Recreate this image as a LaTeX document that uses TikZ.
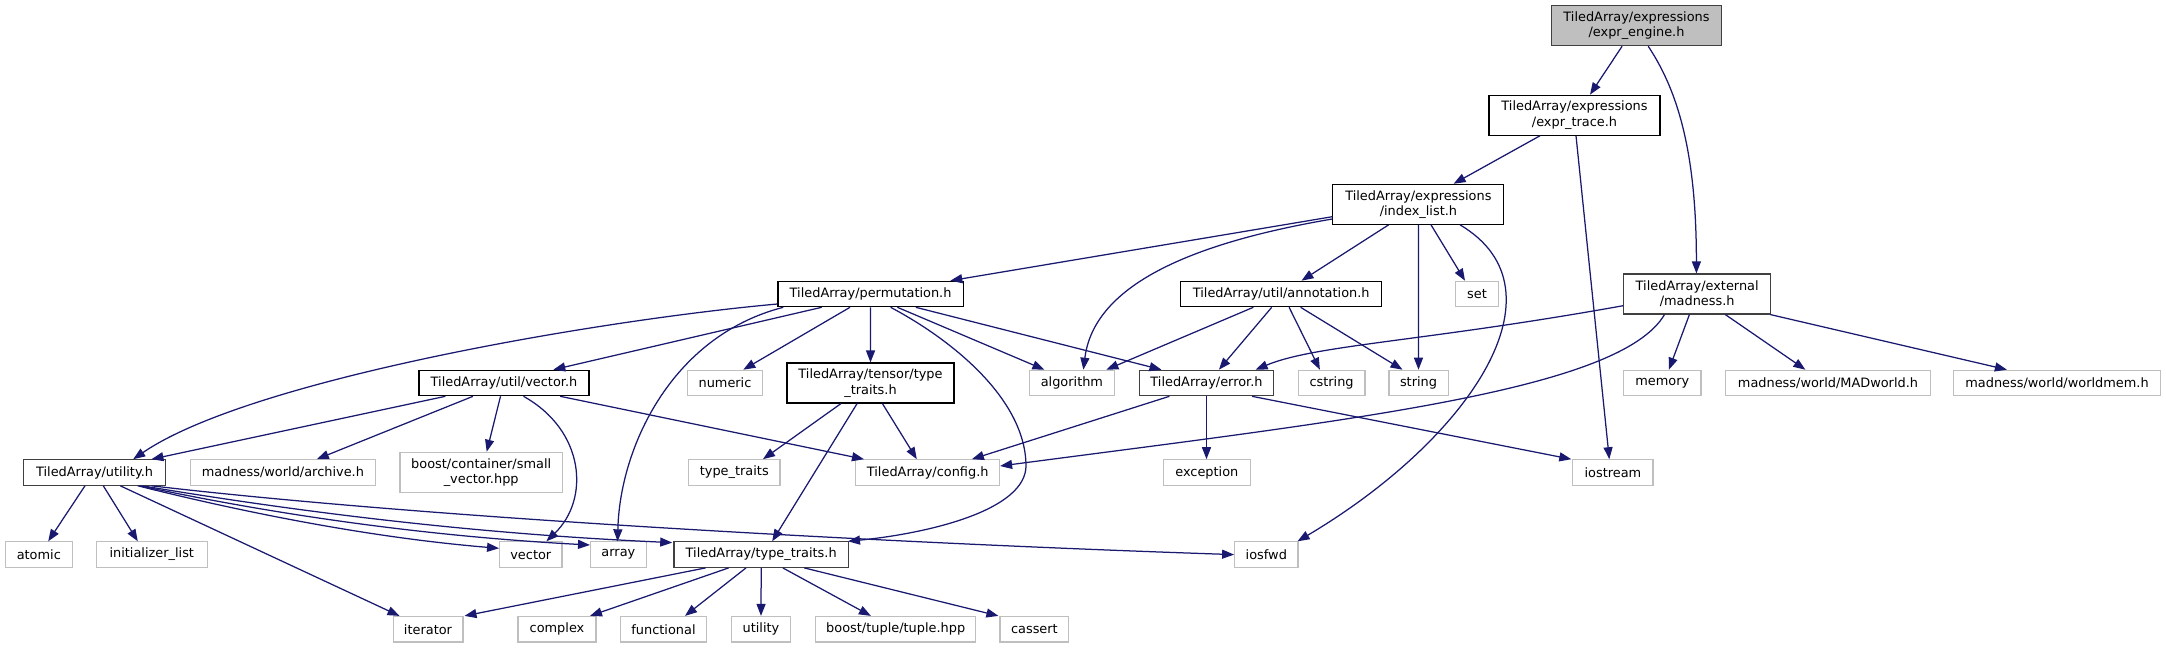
\documentclass[tikz,border=0pt]{standalone}
\usepackage{fontspec}
\setmainfont{DejaVu Sans}
\usetikzlibrary{arrows.meta}
\definecolor{edgec}{HTML}{191970}
\definecolor{extc}{HTML}{BFBFBF}
\definecolor{dkc}{HTML}{404040}
\newcommand\dfont{\fontsize{12.9}{15.3}\selectfont}
\begin{document}
\begin{tikzpicture}[x=1pt,y=-1pt,
  box/.style={draw=black, line width=1.1pt, fill=white, inner sep=0pt, minimum height=25.5pt, align=center, font=\dfont, text=black},
  ext/.style={box, draw=extc},
  dk/.style={box, draw=dkc},
  two/.style={minimum height=40pt},
  e/.style={draw=edgec, line width=1.25pt, -{Triangle[length=12pt,width=9pt]}, fill=none}]
\fill[white] (0,0) rectangle (2166,648);
\useasboundingbox (0,0) rectangle (2166,648);
% row 0-2
\node[dk, two, fill=extc, minimum width=170pt] (ee) at (1636.5,25.7) {TiledArray/expressions\\/expr\_engine.h};
\node[box, two, minimum width=171pt] (et) at (1574.5,115.2) {TiledArray/expressions\\/expr\_trace.h};
\node[box, two, minimum width=171pt] (il) at (1418.4,204.3) {TiledArray/expressions\\/index\_list.h};
% row 3
\node[box, minimum width=185.3pt] (perm) at (870.6,294) {TiledArray/permutation.h};
\node[box, minimum width=200.7pt] (ann) at (1281.2,294) {TiledArray/util/annotation.h};
\node[ext, minimum width=42.8pt] (set) at (1477,294) {set};
\node[dk, two, minimum width=147pt] (mad) at (1697.2,294) {TiledArray/external\\/madness.h};
% row 4
\node[box, minimum width=170pt] (vec) at (504,383) {TiledArray/util/vector.h};
\node[ext, minimum width=75.4pt] (num) at (725,383) {numeric};
\node[box, two, minimum width=167pt] (ttt) at (870.5,383) {TiledArray/tensor/type\\\_traits.h};
\node[ext, minimum width=85.4pt] (alg) at (1071.9,383) {algorithm};
\node[dk, minimum width=134.1pt] (err) at (1206.5,383) {TiledArray/error.h};
\node[ext, minimum width=66.7pt] (cstr) at (1331.6,383) {cstring};
\node[ext, minimum width=59.1pt] (str) at (1418.5,383) {string};
\node[ext, minimum width=77.4pt] (mem) at (1662.3,383) {memory};
\node[ext, minimum width=204.4pt] (madw) at (1828,383) {madness/world/MADworld.h};
\node[ext, minimum width=207.1pt] (wmem) at (2057,383) {madness/world/worldmem.h};
% row 5
\node[dk, minimum width=141.4pt] (util) at (94.6,472.5) {TiledArray/utility.h};
\node[ext, minimum width=184.5pt] (arch) at (282.9,472.5) {madness/world/archive.h};
\node[ext, two, minimum width=162.5pt] (sv) at (481.2,472.3) {boost/container/small\\\_vector.hpp};
\node[ext, minimum width=91.4pt] (tt) at (734.3,472.5) {type\_traits};
\node[ext, minimum width=143.7pt] (cfg) at (927.7,472.5) {TiledArray/config.h};
\node[ext, minimum width=86.8pt] (exc) at (1206.8,472.5) {exception};
\node[ext, minimum width=80.1pt] (ios) at (1612.9,472.5) {iostream};
% row 6
\node[ext, minimum width=66.6pt] (atom) at (38.8,554.6) {atomic};
\node[ext, minimum width=110.7pt] (inil) at (151.8,554.6) {initializer\_list};
\node[ext, minimum width=62.4pt] (vect) at (530.8,554.6) {vector};
\node[ext, minimum width=55.7pt] (arr) at (618.4,554.6) {array};
\node[dk, minimum width=174.5pt] (tth) at (761.2,554.6) {TiledArray/type\_traits.h};
\node[ext, minimum width=63.3pt] (iosfwd) at (1266.3,554.6) {iosfwd};
% row 7
\node[ext, minimum width=69.9pt] (iter) at (428,629.2) {iterator};
\node[ext, minimum width=78pt] (cplx) at (557,629.2) {complex};
\node[ext, minimum width=86pt] (func) at (663.5,629.2) {functional};
\node[ext, minimum width=59.3pt] (utl) at (761,629.2) {utility};
\node[ext, minimum width=159.8pt] (btup) at (895.7,629.2) {boost/tuple/tuple.hpp};
\node[ext, minimum width=68.9pt] (cas) at (1034.4,629.2) {cassert};
% edges
\draw[e] ([xshift=-14.4pt]ee.south) -- ([xshift=15.5pt]et.north);
\draw[e] ([xshift=11.7pt]ee.south) .. controls +(30,45) and +(0,-120) .. ([xshift=-0.8pt]mad.north);
\draw[e] ([xshift=-34.5pt]et.south) -- ([xshift=35.2pt]il.north);
\draw[e] ([xshift=1.5pt]et.south) -- ([xshift=-3.6pt]ios.north);
\draw[e] ([yshift=-12.4pt]il.west) -- ([xshift=79.7pt]perm.north);
\draw[e] ([yshift=-14.7pt]il.west) .. controls +(-153,26) and +(10,-80) .. ([xshift=11.5pt]alg.north);
\draw[e] ([xshift=-29.8pt]il.south) -- ([xshift=20.3pt]ann.north);
\draw[e] (il.south) -- (str.north);
\draw[e] ([xshift=12.6pt]il.south) -- ([xshift=-12pt]set.north);
\draw[e] ([xshift=41.6pt]il.south) .. controls +(110,65) and +(172,-102) .. ([xshift=-1pt]iosfwd.north east);
\draw[e] ([yshift=-10pt]perm.west) .. controls +(-178,16) and +(117,-80) .. ([xshift=38.6pt]util.north);
\draw[e] ([xshift=-48.9pt]perm.south) -- ([xshift=49.3pt]vec.north);
\draw[e] ([xshift=-87.3pt]perm.south) .. controls +(-113,29) and +(2,-92) .. ([xshift=-0.8pt]arr.north);
\draw[e] ([xshift=-20.6pt]perm.south) -- ([xshift=18.3pt]num.north);
\draw[e] (perm.south) -- (ttt.north);
\draw[e] ([xshift=20pt]perm.south) .. controls +(64,34) and +(-1,-65) .. (1026,465) .. controls +(1,45) and +(81,-8) .. ([xshift=-1pt]tth.north east);
\draw[e] ([xshift=26.8pt]perm.south) -- ([xshift=-27.5pt]alg.north);
\draw[e] ([xshift=45.2pt]perm.south) -- ([xshift=-45pt]err.north);
\draw[e] ([xshift=-27.9pt]ann.south) -- ([xshift=34.5pt]alg.north);
\draw[e] ([xshift=-9.5pt]ann.south) -- ([xshift=12.4pt]err.north);
\draw[e] ([xshift=7.9pt]ann.south) -- ([xshift=-11.7pt]cstr.north);
\draw[e] ([xshift=19.4pt]ann.south) -- ([xshift=-16pt]str.north);
\draw[e] ([yshift=-11.7pt]mad.west) .. controls +(-200,36) and +(60,-25) .. ([xshift=49.1pt]err.north);
\draw[e] ([xshift=-32.7pt]mad.south) .. controls +(-44.5,76) and +(350,-46) .. ([yshift=6.5pt]cfg.east);
\draw[e] ([xshift=-7.8pt]mad.south) -- ([xshift=6.6pt]mem.north);
\draw[e] ([xshift=28.1pt]mad.south) -- ([xshift=-22.6pt]madw.north);
\draw[e] ([xshift=-1pt]mad.south east) -- ([xshift=-50.1pt]wmem.north);
\draw[e] ([xshift=-58.6pt]vec.south) -- ([xshift=56.9pt]util.north);
\draw[e] ([xshift=-31pt]vec.south) -- ([xshift=33.9pt]arch.north);
\draw[e] ([xshift=-3.5pt]vec.south) -- ([xshift=5.5pt]sv.north);
\draw[e] ([xshift=19.5pt]vec.south) .. controls +(61.5,34.3) and +(43.6,-42) .. ([xshift=15.6pt]vect.north);
\draw[e] ([xshift=56.2pt]vec.south) -- ([xshift=-63.7pt]cfg.north);
\draw[e] ([xshift=-29.5pt]ttt.south) -- ([xshift=28.7pt]tt.north);
\draw[e] ([xshift=11.9pt]ttt.south) -- ([xshift=-10.9pt]cfg.north);
\draw[e] ([xshift=-13.4pt]ttt.south) -- ([xshift=11pt]tth.north);
\draw[e] ([xshift=-37.1pt]err.south) -- ([xshift=44.2pt]cfg.north);
\draw[e] (err.south) -- ([xshift=-0.3pt]exc.north);
\draw[e] ([xshift=45.5pt]err.south) -- ([xshift=-1pt]ios.north west);
\draw[e] ([xshift=-9.6pt]util.south) -- ([xshift=9.4pt]atom.north);
\draw[e] ([xshift=8.7pt]util.south) -- ([xshift=-14pt]inil.north);
\draw[e] ([xshift=25.7pt]util.south) -- ([xshift=-28.5pt]iter.north);
\draw[e] ([xshift=43.2pt]util.south) .. controls +(120,30) and +(-120,-10) .. ([yshift=6.3pt]vect.west);
\draw[e] ([xshift=45.4pt]util.south) .. controls +(150,32) and +(-150,-8) .. ([yshift=9.6pt]arr.west);
\draw[e] ([xshift=47.7pt]util.south) .. controls +(180,30) and +(-180,-8) .. ([xshift=-1.2pt,yshift=-1.3pt]tth.north west);
\draw[e] ([xshift=56.9pt]util.south) .. controls +(300,35) and +(-300,-10) .. (iosfwd.west);
\draw[e] ([xshift=-55.6pt]tth.south) -- ([xshift=1pt]iter.north east);
\draw[e] ([xshift=-32.6pt]tth.south) -- ([xshift=33pt]cplx.north);
\draw[e] ([xshift=-15.2pt]tth.south) -- ([xshift=21.5pt]func.north);
\draw[e] (tth.south) -- (utl.north);
\draw[e] ([xshift=21.6pt]tth.south) -- ([xshift=-24.8pt]btup.north);
\draw[e] ([xshift=43.1pt]tth.south) -- ([xshift=-1pt]cas.north west);
\end{tikzpicture}
\end{document}
